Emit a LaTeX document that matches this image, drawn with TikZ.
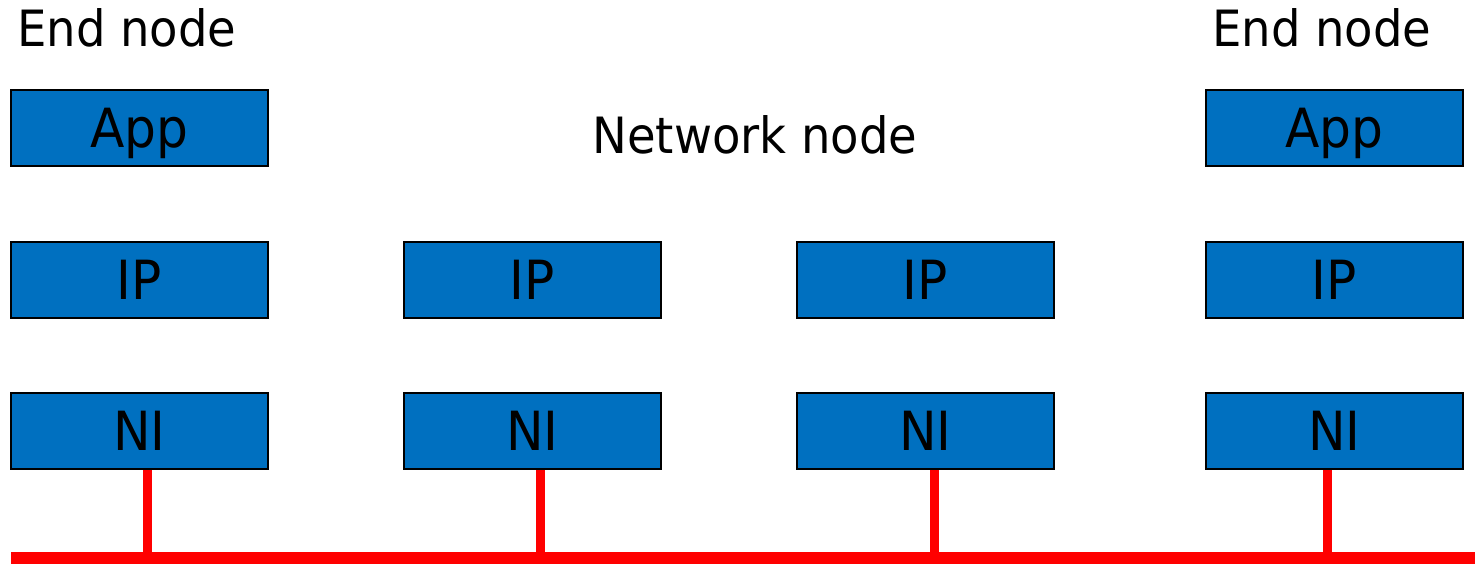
\documentclass[tikz,border=0pt]{standalone}
\usepackage{fontspec}
\setmainfont{DejaVu Sans}[FakeStretch=0.93]
\definecolor{boxblue}{RGB}{0,112,192}
\definecolor{busred}{RGB}{255,0,0}
\begin{document}
\begin{tikzpicture}[x=1pt,y=-1pt,
  layerbox/.style={draw=black, line width=2pt, fill=boxblue, minimum width=257pt, minimum height=76pt, inner sep=0pt, font=\fontsize{54}{60}\selectfont, text height=39pt, text depth=0pt},
  caption/.style={inner sep=0pt, font=\fontsize{50}{60}\selectfont},
  bus/.style={draw=busred, line width=12pt},
  drop/.style={draw=busred, line width=9pt}]
\useasboundingbox (0,0) rectangle (1475,564);
% labels
\node[caption, anchor=base west] (endL) at (17,47) {End node};
\node[caption, anchor=base west] (endR) at (1212,47) {End node};
\node[caption, anchor=base] (net) at (755,154) {Network node};
% boxes
\node[layerbox] (app1) at (139.5,128) {App};
\node[layerbox] (app4) at (1334.5,128) {App};
\node[layerbox] (ip1) at (139.5,280) {IP};
\node[layerbox] (ip2) at (532.5,280) {IP};
\node[layerbox] (ip3) at (925.5,280) {IP};
\node[layerbox] (ip4) at (1334.5,280) {IP};
\node[layerbox] (ni1) at (139.5,431) {NI};
\node[layerbox] (ni2) at (532.5,431) {NI};
\node[layerbox] (ni3) at (925.5,431) {NI};
\node[layerbox] (ni4) at (1334.5,431) {NI};
% bus
\coordinate (busL) at (11,557.5);
\coordinate (busR) at (1475,557.5);
\foreach \n/\dx in {ni1/8,ni2/8,ni3/8.5,ni4/-7.5}
  \draw[drop] ([xshift=\dx pt]\n.south) -- ([xshift=\dx pt]\n.south |- busL);
\draw[bus] (busL) -- (busR);
\end{tikzpicture}
\end{document}
